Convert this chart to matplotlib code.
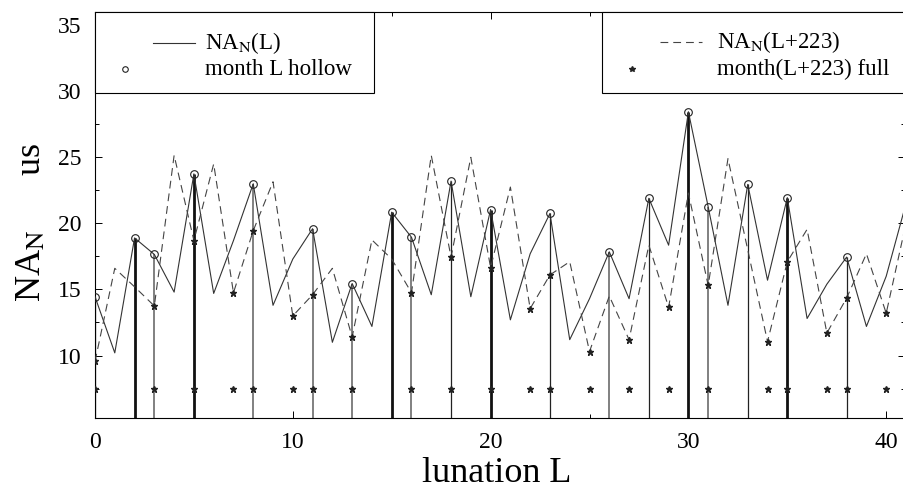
import numpy as np
import matplotlib
matplotlib.use("Agg")
import matplotlib.pyplot as plt
from matplotlib.ticker import MultipleLocator
from matplotlib.lines import Line2D
from matplotlib.patches import Rectangle

plt.rcParams['font.family'] = ['Liberation Serif', 'DejaVu Serif']
plt.rcParams['mathtext.fontset'] = 'stix'

# NA_N for lunation L and for L+223
lunation = np.arange(42)
na_L = [14.45, 10.2, 18.9, 17.65, 14.8, 23.75, 14.7, 18.7, 23.0, 13.8,
        17.3, 19.6, 11.0, 15.45, 12.2, 20.85, 18.95, 14.6, 23.2, 14.45,
        21.05, 12.7, 17.7, 20.75, 11.2, 14.3, 17.85, 14.3, 21.9, 18.35,
        28.45, 21.25, 13.8, 22.95, 15.7, 21.95, 12.8, 15.4, 17.45, 12.2,
        16.0, 21.5]
na_L223 = [9.55, 16.6, 15.2, 13.75, 25.15, 18.7, 24.5, 14.75, 19.45, 23.15,
           13.0, 14.6, 16.6, 11.4, 18.75, 17.3, 14.75, 25.15, 17.45, 25.0,
           16.65, 22.75, 13.55, 16.1, 17.1, 10.3, 14.5, 11.2, 18.35, 13.65,
           22.3, 15.3, 24.9, 18.0, 11.05, 17.1, 19.55, 11.7, 14.35, 17.7,
           13.2, 20.0]

# months marked hollow (L) and full (L+223)
hollow_L = [0, 2, 3, 5, 8, 11, 13, 15, 16, 18, 20, 23, 26, 28, 30, 31, 33, 35, 38]
full_L = [0, 3, 5, 7, 8, 10, 11, 13, 16, 18, 20, 22, 23, 25, 27, 29, 31, 34,
          35, 37, 38, 40]
full_row = 7.5

# stem groups
stem_heavy = [2, 5, 15, 20, 30, 35]
stem_grey = [3, 8, 11, 13, 16, 26, 31]
stem_thin = [0, 18, 23, 28, 33, 38]

na_L = np.array(na_L)
na_L223 = np.array(na_L223)

fig = plt.figure(figsize=(9.04, 4.98), dpi=100)
ax = fig.add_axes([95/904, 80/498, 810/904, 406/498])

# stems
for grp, c, lw in [(stem_thin, '#222222', 0.9), (stem_grey, '#808080', 1.4),
                   (stem_heavy, '#111111', 2.0)]:
    ax.vlines(grp, 0, na_L[grp], colors=c, linewidth=lw, zorder=2)

ax.plot(lunation, na_L, color='#333333', lw=0.8, zorder=3)
dl, = ax.plot(lunation, na_L223, color='#444444', lw=0.8, zorder=3)
dl.set_dashes((7, 4.5))

ax.plot(hollow_L, na_L[hollow_L], 'o', ms=5.5, mfc='none', mec='#222222',
        mew=0.8, zorder=4)
ax.plot(full_L, na_L223[full_L], '*', ms=5, color='#222222', zorder=4)
ax.plot(full_L, [full_row] * len(full_L), '*', ms=5, color='#222222', zorder=4)

ax.set_xlim(0, 40.95)
ax.set_ylim(5.27, 36)
ax.xaxis.set_major_locator(MultipleLocator(10))
ax.xaxis.set_minor_locator(MultipleLocator(5))
ax.yaxis.set_major_locator(MultipleLocator(5))
ax.yaxis.set_minor_locator(MultipleLocator(2.5))
ax.set_yticks([10, 15, 20, 25, 30, 35])
ax.tick_params(which='both', direction='in', top=True, right=True,
               labelsize=17, pad=10)
ax.tick_params(which='major', length=5, width=0.7)
ax.tick_params(which='minor', length=3, width=0.7)
for sp in ax.spines.values():
    sp.set_linewidth(0.8)

ax.set_xlabel('lunation L', fontsize=26)
ax.xaxis.set_label_coords(0.496, -0.095)
ax.set_ylabel('NA$_{\\mathrm{N}}$      us', fontsize=26)
ax.yaxis.set_label_coords(-0.058, 0.4815)

# legend boxes (MATLAB style)
for x0, w in [(0.0, 0.3444), (0.626, 0.4)]:
    ax.add_patch(Rectangle((x0, 0.8), w, 0.2, transform=ax.transAxes,
                           facecolor='white', edgecolor='black', lw=0.8,
                           zorder=5, clip_on=False))
tr = ax.transAxes
ax.add_line(Line2D([0.0716, 0.1235], [0.9236, 0.9236], transform=tr,
                   color='#333333', lw=0.8, zorder=6))
ax.add_line(Line2D([0.037], [0.8596], transform=tr, marker='o', ms=4,
                   mfc='none', mec='#222222', mew=0.8, zorder=6))
ax.text(0.1358, 0.9236, 'NA$_{\\mathrm{N}}$(L)', transform=tr, fontsize=16.5,
        va='center', zorder=6)
ax.text(0.1358, 0.8596, 'month L hollow', transform=tr, fontsize=16.5,
        va='center', zorder=6)
leg_dash = Line2D([0.6975, 0.749], [0.926, 0.926], transform=tr,
                  color='#444444', lw=0.8, zorder=6)
leg_dash.set_dashes((7, 4.5))
ax.add_line(leg_dash)
ax.add_line(Line2D([0.663], [0.8596], transform=tr, marker='*', ms=4,
                   color='#222222', lw=0, zorder=6))
ax.text(0.768, 0.926, 'NA$_{\\mathrm{N}}$(L+223)', transform=tr, fontsize=16.5,
        va='center', zorder=6)
ax.text(0.768, 0.8596, 'month(L+223) full', transform=tr, fontsize=16.5,
        va='center', zorder=6)

fig.savefig('out.png', dpi=100)
